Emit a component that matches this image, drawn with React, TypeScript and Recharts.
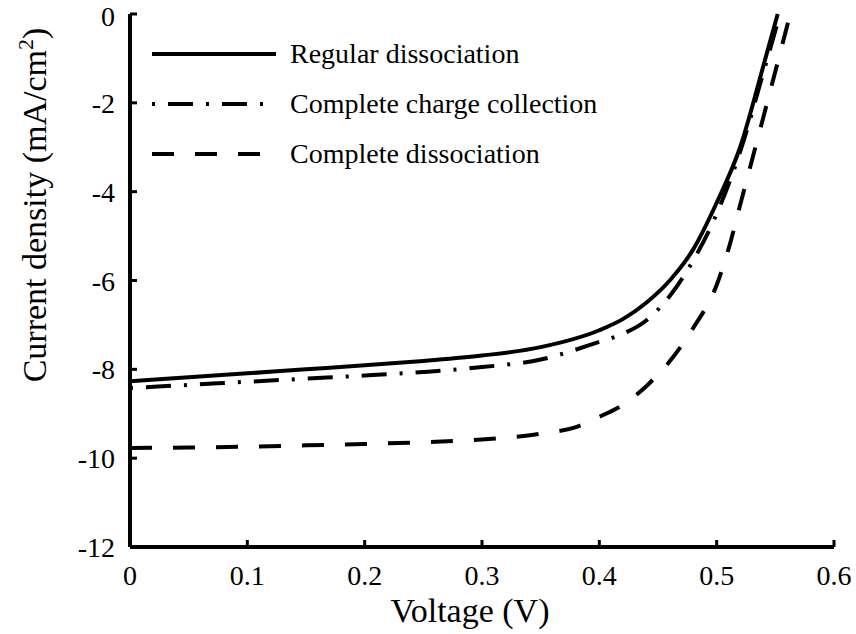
import React from 'react';
import { LineChart, Line, XAxis, YAxis, Legend } from 'recharts';

// voltage (V) and current density (mA/cm^2)
const vRegular = [0, 0.05, 0.1, 0.15, 0.2, 0.25, 0.3, 0.35, 0.4, 0.42, 0.44, 0.46, 0.48, 0.5, 0.52, 0.54, 0.552];
const jRegular = [-8.27, -8.18, -8.09, -8.0, -7.91, -7.81, -7.69, -7.5, -7.12, -6.87, -6.5, -6.0, -5.3, -4.25, -3.0, -1.15, 0];

const vCollection = [0, 0.05, 0.1, 0.15, 0.2, 0.25, 0.3, 0.35, 0.4, 0.42, 0.44, 0.46, 0.48, 0.5, 0.52, 0.54, 0.554];
const jCollection = [-8.42, -8.35, -8.28, -8.21, -8.14, -8.06, -7.95, -7.78, -7.38, -7.2, -6.9, -6.35, -5.55, -4.5, -3.1, -1.3, 0];

const vComplete = [0, 0.05, 0.1, 0.15, 0.2, 0.25, 0.3, 0.35, 0.38, 0.4, 0.42, 0.44, 0.46, 0.48, 0.5, 0.51, 0.52, 0.54, 0.5627];
const jComplete = [-9.77, -9.76, -9.74, -9.71, -9.68, -9.64, -9.58, -9.45, -9.3, -9.07, -8.8, -8.38, -7.82, -7.07, -6.1, -5.3, -4.3, -2.3, 0];

const xTicks = [0, 0.1, 0.2, 0.3, 0.4, 0.5, 0.6];
const yTicks = [-12, -10, -8, -6, -4, -2, 0];

const seriesNames = ['Regular dissociation', 'Complete charge collection', 'Complete dissociation'];
const dashes = [undefined, '3 13 25 13', '22 21'];

const toPoints = (vs: number[], js: number[]) => vs.map((v, i) => ({ v, j: js[i] }));

const FONT = '"Liberation Serif", "Times New Roman", Times, serif';

function TickText(props: any) {
  const { x, y, payload, textAnchor, axis } = props;
  const label = String(payload.value);
  if (axis === 'x') {
    return (
      <text x={x} y={y + 18} textAnchor="middle" fontFamily={FONT} fontSize={28} fill="#000">
        {label}
      </text>
    );
  }
  // keep the top "0" inside the picture
  return (
    <text x={x} y={Math.max(y + 10, 26)} textAnchor={textAnchor || 'end'} fontFamily={FONT} fontSize={28} fill="#000">
      {label}
    </text>
  );
}

function KeyBox() {
  return (
    <div style={{ fontFamily: FONT, fontSize: 28, color: '#000', lineHeight: 1 }}>
      {seriesNames.map((name, i) => (
        <div key={name} style={{ display: 'flex', alignItems: 'center', height: 50 }}>
          <svg width={124} height={10} style={{ marginRight: 14 }}>
            <line x1={0} y1={5} x2={124} y2={5} stroke="#000" strokeWidth={4} strokeDasharray={dashes[i]} />
          </svg>
          <span>{name}</span>
        </div>
      ))}
    </div>
  );
}

function YTitle() {
  return (
    <text
      transform="translate(46, 205) rotate(-90)"
      textAnchor="middle"
      fontFamily={FONT}
      fontSize={34}
      fill="#000"
    >
      Current density (mA/cm<tspan dy={-13} fontSize={22}>2</tspan><tspan dy={13}>)</tspan>
    </text>
  );
}

function XTitle() {
  return (
    <text x={470} y={622} textAnchor="middle" fontFamily={FONT} fontSize={34} fill="#000">
      Voltage (V)
    </text>
  );
}

export default function App() {
  return (
    <div style={{ position: 'absolute', left: 0, top: 0, width: 856, height: 634, background: '#fff', fontFamily: FONT }}>
      <LineChart width={856} height={634} margin={{ top: 14, right: 22, bottom: 0, left: 60 }} style={{ fontFamily: FONT }}>
        <XAxis
          xAxisId="x"
          dataKey="v"
          type="number"
          domain={[0, 0.6]}
          ticks={xTicks}
          height={87}
          tickSize={-7}
          tickMargin={27}
          tick={<TickText axis="x" />}
          tickLine={{ stroke: '#000', strokeWidth: 3 }}
          axisLine={{ stroke: '#000', strokeWidth: 4 }}
          label={<XTitle />}
        />
        <XAxis
          xAxisId="top"
          orientation="top"
          type="number"
          domain={[0, 0.6]}
          ticks={xTicks}
          height={0}
          tickSize={-7}
          tickFormatter={() => ''}
          tickLine={{ stroke: '#000', strokeWidth: 3 }}
          axisLine={{ stroke: '#000', strokeWidth: 4 }}
        />
        <YAxis
          yAxisId="y"
          type="number"
          domain={[-12, 0]}
          ticks={yTicks}
          width={70}
          tickSize={-7}
          tickMargin={22}
          tick={<TickText axis="y" />}
          tickLine={{ stroke: '#000', strokeWidth: 3 }}
          axisLine={{ stroke: '#000', strokeWidth: 4 }}
          label={<YTitle />}
        />
        <YAxis
          yAxisId="right"
          orientation="right"
          type="number"
          domain={[-12, 0]}
          ticks={yTicks}
          width={0}
          tickSize={-7}
          tickFormatter={() => ''}
          tickLine={{ stroke: '#000', strokeWidth: 3 }}
          axisLine={{ stroke: '#000', strokeWidth: 4 }}
        />
        <Legend
          layout="vertical"
          align="center"
          verticalAlign="middle"
          wrapperStyle={{ top: 29, left: 152 }}
          content={() => <KeyBox />}
        />
        <Line xAxisId="x" yAxisId="y" data={toPoints(vRegular, jRegular)} dataKey="j" name={seriesNames[0]}
          type="monotone" stroke="#000" strokeWidth={4} dot={false} activeDot={false} isAnimationActive={false} />
        <Line xAxisId="x" yAxisId="y" data={toPoints(vCollection, jCollection)} dataKey="j" name={seriesNames[1]}
          type="monotone" stroke="#000" strokeWidth={4} strokeDasharray={dashes[1]} dot={false} activeDot={false} isAnimationActive={false} />
        <Line xAxisId="x" yAxisId="y" data={toPoints(vComplete, jComplete)} dataKey="j" name={seriesNames[2]}
          type="monotone" stroke="#000" strokeWidth={4} strokeDasharray={dashes[2]} dot={false} activeDot={false} isAnimationActive={false} />
      </LineChart>
    </div>
  );
}
